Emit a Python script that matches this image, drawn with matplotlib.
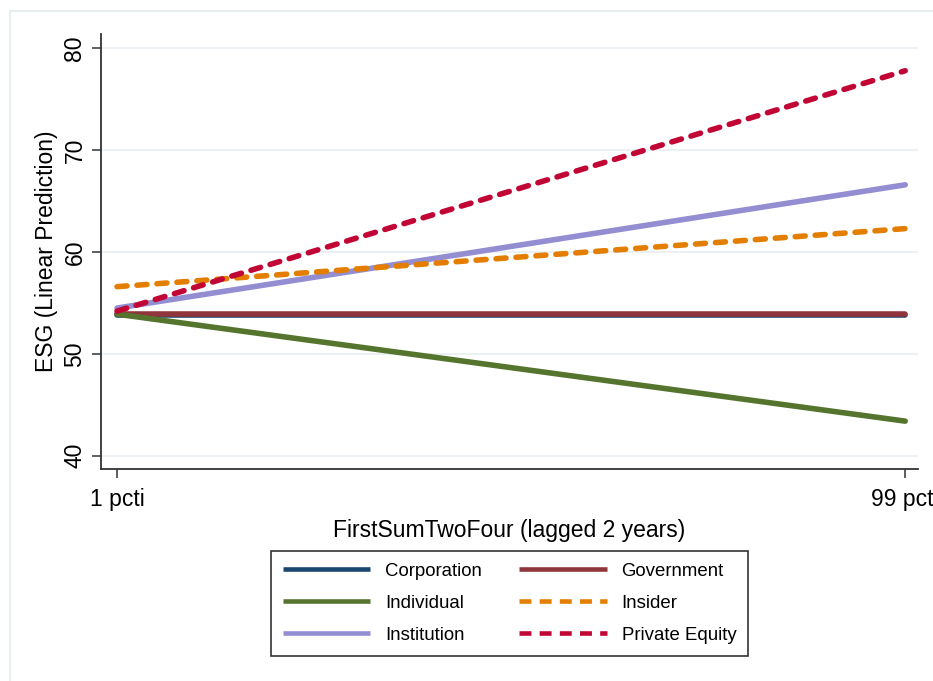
import matplotlib
matplotlib.use("Agg")
import matplotlib.pyplot as plt
from matplotlib.patches import Rectangle

plt.rcParams['font.family'] = ['Liberation Sans', 'DejaVu Sans']

# predicted ESG at the 1st and 99th percentile of FirstSumTwoFour
x_pos = [1, 99]
x_ticklabels = ["1 pcti", "99 pcti"]
y_ticks = [40, 50, 60, 70, 80]

corporation = [53.8, 53.8]
government = [53.9, 53.9]
individual = [53.9, 43.4]
institution = [54.5, 66.6]
insider = [56.6, 62.3]
private_equity = [54.2, 77.8]

# stata s2color palette
NAVY = "#1a476f"
MAROON = "#90353b"
GREEN = "#55752f"
ORANGE = "#e37e00"
LAVENDER = "#938dd2"
CRANBERRY = "#c10534"

fig = plt.figure(figsize=(9.33, 6.81), dpi=100)
ax = fig.add_axes([0.1083, 0.3113, 0.8757, 0.6387])

# light graph-region outline (cut off at right/bottom like the original)
fig.patches.append(Rectangle((10 / 933, -0.1), 1.2, 1 - 11 / 681 + 0.1,
                             transform=fig.transFigure, fill=False,
                             edgecolor="#e3ebee", lw=1.2))

for y in y_ticks:
    ax.axhline(y, color="#e6eef1", lw=1.2, zorder=0)

lw = 4.0
dash = (0, (1.8, 1.8))
l_corp, = ax.plot(x_pos, corporation, color=NAVY, lw=lw, solid_capstyle="round")
l_gov, = ax.plot(x_pos, government, color=MAROON, lw=lw, solid_capstyle="round")
l_ind, = ax.plot(x_pos, individual, color=GREEN, lw=lw, solid_capstyle="round")
l_inst, = ax.plot(x_pos, institution, color=LAVENDER, lw=lw, solid_capstyle="round")
l_ins, = ax.plot(x_pos, insider, color=ORANGE, lw=lw, linestyle=dash, dash_capstyle="round")
l_pe, = ax.plot(x_pos, private_equity, color=CRANBERRY, lw=lw, linestyle=dash, dash_capstyle="round")

ax.set_xlim(-0.99, 100.6)
ax.set_ylim(38.7, 81.4)
ax.set_xticks(x_pos)
ax.set_xticklabels(x_ticklabels)
ax.set_yticks(y_ticks)
ax.set_yticklabels([str(v) for v in y_ticks], rotation=90, va="center")

for s in ["top", "right"]:
    ax.spines[s].set_visible(False)
for s in ["left", "bottom"]:
    ax.spines[s].set_color("#333333")
    ax.spines[s].set_linewidth(1.3)

ax.tick_params(axis="both", length=6.5, width=1.1, color="#333333", labelsize=16.5)
ax.tick_params(axis="x", pad=7)
ax.tick_params(axis="y", pad=4)
ax.set_xlabel("FirstSumTwoFour (lagged 2 years)", fontsize=16.5, labelpad=6)
ax.set_ylabel("ESG (Linear Prediction)", fontsize=16.5, labelpad=4)

# legend laid out row-wise: matplotlib fills columns first
handles = [l_corp, l_ind, l_inst, l_gov, l_ins, l_pe]
labels = ["Corporation", "Individual", "Institution", "Government", "Insider", "Private Equity"]
leg_handles = []
for h in handles:
    dashed = h.get_linestyle() != "-"
    lh, = ax.plot([], [], color=h.get_color(), lw=3.3,
                  linestyle=(0, (2.6, 1.8)) if dashed else "-",
                  solid_capstyle="butt", dash_capstyle="butt")
    leg_handles.append(lh)

leg = fig.legend(leg_handles, labels, ncol=2, loc="center",
                 bbox_to_anchor=(0.5461, 0.1140), fontsize=13.4,
                 frameon=True, fancybox=False, handlelength=4.7,
                 handletextpad=0.8, columnspacing=2.0, labelspacing=0.8,
                 borderpad=0.65)
leg.get_frame().set_edgecolor("black")
leg.get_frame().set_linewidth(1.2)

fig.savefig("out.png", dpi=100)
